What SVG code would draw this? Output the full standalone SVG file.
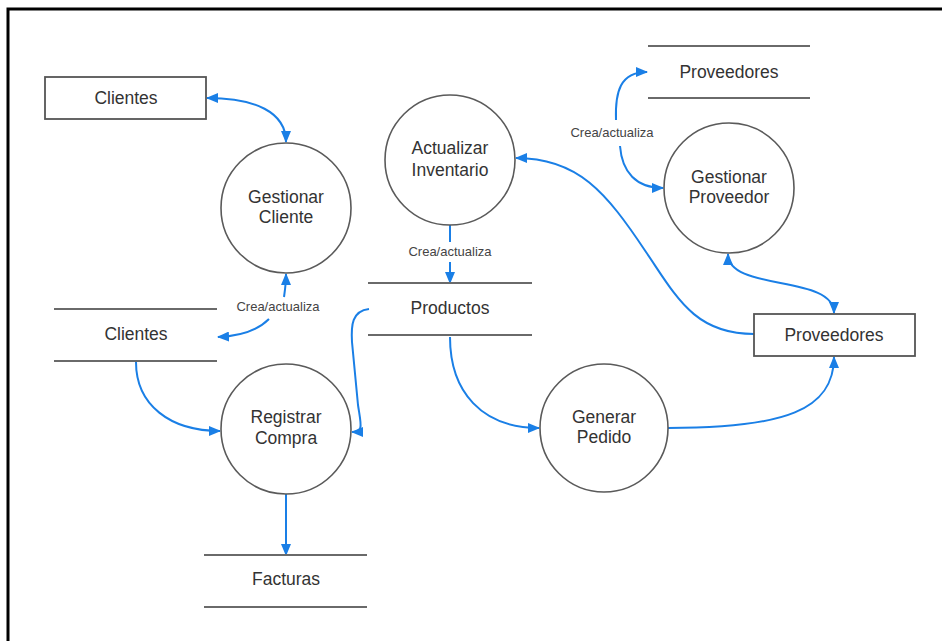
<svg xmlns="http://www.w3.org/2000/svg" width="942" height="641" viewBox="0 0 942 641">
  <style>
    .proc { fill: #ffffff; stroke: #5a5a5a; stroke-width: 1.6; }
    .ent { fill: #ffffff; stroke: #555555; stroke-width: 1.8; }
    .store { stroke: #6a6a6a; stroke-width: 2; }
    .lbl { font-family: "Liberation Sans", Arial, sans-serif; font-size: 17.5px; fill: #333333; text-anchor: middle; }
    .flow-lbl { font-family: "Liberation Sans", Arial, sans-serif; font-size: 13px; fill: #444444; text-anchor: middle; }
    .flow { fill: none; stroke: #1a7fe6; stroke-width: 2; }
  </style>
  <defs>
    <marker id="arrow" viewBox="0 0 12 10" refX="11" refY="5" markerWidth="12" markerHeight="10" markerUnits="userSpaceOnUse" orient="auto-start-reverse">
      <path d="M0,0 L12,5 L0,10 Z" fill="#1a7fe6"/>
    </marker>
  </defs>

  <rect width="942" height="641" fill="#ffffff"/>
  <!-- frame -->
  <rect x="8" y="9" width="980" height="700" fill="none" stroke="#000000" stroke-width="3"/>

  <!-- connectors -->
  <g id="connectors">
    <!-- Clientes <-> Gestionar Cliente -->
    <path class="flow" d="M207,98 C255,98 286,112 286,142" marker-start="url(#arrow)" marker-end="url(#arrow)"/>
    <!-- Gestionar Cliente <-> Clientes store -->
    <path class="flow" d="M284,297 C285,290 286,284 286,274" marker-end="url(#arrow)"/>
    <path class="flow" d="M269,319 C258,330 240,336 218,337" marker-end="url(#arrow)"/>
    <text class="flow-lbl" x="278" y="311">Crea/actualiza</text>
    <!-- Clientes store -> Registrar Compra -->
    <path class="flow" d="M136,362 C136,405 170,431 220,431" marker-end="url(#arrow)"/>
    <!-- Productos -> Registrar Compra -->
    <path class="flow" d="M369,309 C352,311 351,325 352,342 L358,405 C361,425 364,432 352,432" marker-end="url(#arrow)"/>
    <!-- Productos -> Generar Pedido -->
    <path class="flow" d="M450,337 C450,392 482,428 539,428" marker-end="url(#arrow)"/>
    <!-- Actualizar Inventario -> Productos -->
    <path class="flow" d="M450,225 L450,242"/>
    <path class="flow" d="M450,262 L450,283" marker-end="url(#arrow)"/>
    <text class="flow-lbl" x="450" y="256">Crea/actualiza</text>
    <!-- Proveedores -> Actualizar Inventario -->
    <path class="flow" d="M754,334 C694,334 676,296 646,252 C606,192 578,158 516,158" marker-end="url(#arrow)"/>
    <!-- Gestionar Proveedor <-> Proveedores store -->
    <path class="flow" d="M616,120 C615,92 620,72 647,72" marker-end="url(#arrow)"/>
    <path class="flow" d="M620,146 C622,172 636,188 663,188" marker-end="url(#arrow)"/>
    <text class="flow-lbl" x="612" y="137">Crea/actualiza</text>
    <!-- Gestionar Proveedor <-> Proveedores -->
    <path class="flow" d="M728,254 C728,292 834,274 834,313" marker-start="url(#arrow)" marker-end="url(#arrow)"/>
    <!-- Generar Pedido -> Proveedores -->
    <path class="flow" d="M668,428 C785,428 834,410 834,357" marker-end="url(#arrow)"/>
    <!-- Registrar Compra -> Facturas -->
    <path class="flow" d="M286,494 L286,555" marker-end="url(#arrow)"/>
  </g>

  <!-- external entities -->
  <g id="ent-clientes">
    <rect class="ent" x="45" y="77" width="161" height="42"/>
    <text class="lbl" x="126" y="104">Clientes</text>
  </g>
  <g id="ent-proveedores">
    <rect class="ent" x="754" y="314" width="161" height="42"/>
    <text class="lbl" x="834" y="341">Proveedores</text>
  </g>

  <!-- processes -->
  <g id="proc-gestionar-cliente">
    <circle class="proc" cx="286" cy="208" r="65"/>
    <text class="lbl" x="286" y="203">Gestionar</text>
    <text class="lbl" x="286" y="223">Cliente</text>
  </g>
  <g id="proc-registrar-compra">
    <circle class="proc" cx="286" cy="429" r="65"/>
    <text class="lbl" x="286" y="423">Registrar</text>
    <text class="lbl" x="286" y="444">Compra</text>
  </g>
  <g id="proc-actualizar-inventario">
    <circle class="proc" cx="450" cy="160" r="65"/>
    <text class="lbl" x="450" y="154">Actualizar</text>
    <text class="lbl" x="450" y="176">Inventario</text>
  </g>
  <g id="proc-gestionar-proveedor">
    <circle class="proc" cx="729" cy="188" r="65"/>
    <text class="lbl" x="729" y="183">Gestionar</text>
    <text class="lbl" x="729" y="203">Proveedor</text>
  </g>
  <g id="proc-generar-pedido">
    <circle class="proc" cx="604" cy="428" r="64"/>
    <text class="lbl" x="604" y="423">Generar</text>
    <text class="lbl" x="604" y="443">Pedido</text>
  </g>

  <!-- data stores -->
  <g id="store-clientes">
    <line class="store" x1="54" y1="309" x2="217" y2="309"/>
    <line class="store" x1="54" y1="361" x2="217" y2="361"/>
    <text class="lbl" x="136" y="340">Clientes</text>
  </g>
  <g id="store-productos">
    <line class="store" x1="368" y1="283" x2="532" y2="283"/>
    <line class="store" x1="368" y1="335" x2="532" y2="335"/>
    <text class="lbl" x="450" y="314">Productos</text>
  </g>
  <g id="store-proveedores">
    <line class="store" x1="648" y1="46" x2="810" y2="46"/>
    <line class="store" x1="648" y1="98" x2="810" y2="98"/>
    <text class="lbl" x="729" y="78">Proveedores</text>
  </g>
  <g id="store-facturas">
    <line class="store" x1="204" y1="555" x2="367" y2="555"/>
    <line class="store" x1="204" y1="607" x2="367" y2="607"/>
    <text class="lbl" x="286" y="585">Facturas</text>
  </g>
</svg>
